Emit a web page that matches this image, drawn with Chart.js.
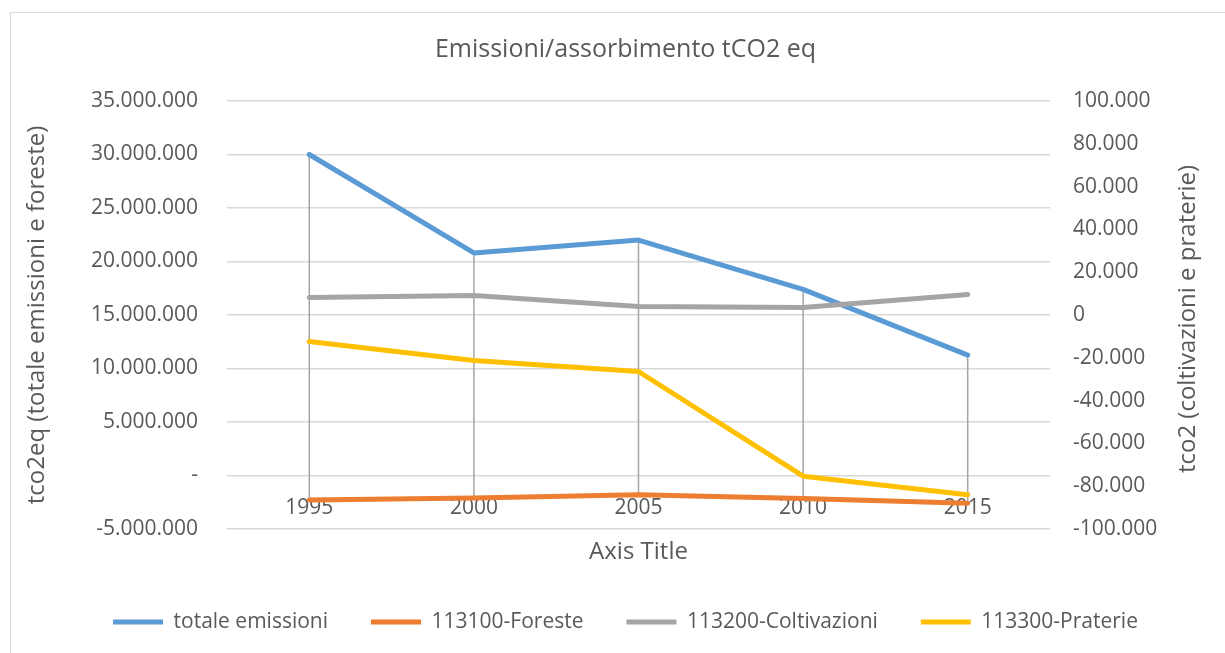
<!DOCTYPE html>
<html>
<head>
<meta charset="utf-8">
<script src="https://cdn.jsdelivr.net/npm/chart.js@4.4.1/dist/chart.umd.min.js"></script>
<style>
  html, body { margin: 0; padding: 0; background: #fff; overflow: hidden; }
  #wrap { position: relative; width: 1225px; height: 653px; overflow: hidden; }
  #frame { position: absolute; left: 10px; top: 12px; width: 1400px; height: 800px; border: 1px solid #d9d9d9; box-sizing: border-box; }
  #box { position: absolute; left: 0; top: 0; width: 1225px; height: 653px; }
</style>
</head>
<body>
<div id="wrap">
  <div id="frame"></div>
  <div id="box"><canvas id="c"></canvas></div>
</div>
<script>
const categories = ['1995', '2000', '2005', '2010', '2015'];
const totaleEmissioni = [30000000, 20800000, 22000000, 17400000, 11250000];
const foreste = [-2300000, -2100000, -1800000, -2150000, -2600000];
const coltivazioni = [8200, 9100, 4000, 3500, 9600];
const praterie = [-12400, -21300, -26400, -75300, -84000];
const seriesNames = ['totale emissioni', '113100-Foreste', '113200-Coltivazioni', '113300-Praterie'];
const chartTitle = 'Emissioni/assorbimento tCO2 eq';
const leftAxisTitle = 'tco2eq (totale emissioni e foreste)';
const rightAxisTitle = 'tco2 (coltivazioni e praterie)';
const xAxisTitle = 'Axis Title';

const FONT = "'Open Sans', 'Liberation Sans', sans-serif";
const TXT = '#595959';

function dots(n) {
  const s = String(Math.round(Math.abs(n)));
  return (n < 0 ? '-' : '') + s.replace(/\B(?=(\d{3})+(?!\d))/g, '.');
}

const highLow = {
  id: 'highLow',
  beforeDatasetsDraw(chart) {
    const ctx = chart.ctx, x = chart.scales.x, y = chart.scales.y;
    ctx.save();
    ctx.strokeStyle = '#a5a5a5';
    ctx.lineWidth = 1.5;
    categories.forEach((c, i) => {
      const vals = [totaleEmissioni[i], foreste[i]];
      const px = x.getPixelForValue(i);
      const top = y.getPixelForValue(Math.max(...vals));
      const bot = y.getPixelForValue(Math.min(...vals));
      ctx.beginPath();
      ctx.moveTo(px, top);
      ctx.lineTo(px, bot);
      ctx.stroke();
    });
    ctx.restore();
  }
};

const rightTitle = {
  id: 'rightTitle',
  afterDraw(chart) {
    const ctx = chart.ctx, a = chart.chartArea;
    ctx.save();
    ctx.translate(1188, (a.top + a.bottom) / 2 + 4);
    ctx.rotate(-Math.PI / 2);
    ctx.fillStyle = TXT;
    ctx.font = "24px " + FONT;
    ctx.textAlign = 'center';
    ctx.textBaseline = 'middle';
    ctx.fillText(rightAxisTitle, 0, 0);
    ctx.restore();
  }
};

function ds(label, data, color, axis, order) {
  return {
    label, data, yAxisID: axis, order,
    borderColor: color, backgroundColor: color,
    borderWidth: 5, pointRadius: 0, pointHoverRadius: 0,
    tension: 0, borderCapStyle: 'round', borderJoinStyle: 'round', fill: false
  };
}

new Chart(document.getElementById('c'), {
  type: 'line',
  data: {
    labels: categories,
    datasets: [
      ds(seriesNames[0], totaleEmissioni, '#5b9bd5', 'y', 4),
      ds(seriesNames[1], foreste, '#ed7d31', 'y', 3),
      ds(seriesNames[2], coltivazioni, '#a5a5a5', 'y1', 2),
      ds(seriesNames[3], praterie, '#ffc000', 'y1', 1)
    ]
  },
  options: {
    responsive: true,
    maintainAspectRatio: false,
    animation: false,
    layout: { padding: { left: 10, right: -16, top: 12, bottom: 10.5 } },
    plugins: {
      title: {
        display: true, text: chartTitle, color: TXT,
        font: { family: FONT, size: 25, weight: 'normal' },
        padding: { top: 23, bottom: 36 }
      },
      legend: {
        position: 'bottom',
        labels: {
          color: TXT, font: { family: FONT, size: 21 },
          usePointStyle: true, pointStyle: 'line', pointStyleWidth: 50,
          padding: 43,
          sort: (a, b) => a.datasetIndex - b.datasetIndex
        }
      },
      tooltip: { enabled: false }
    },
    scales: {
      x: {
        offset: true,
        grid: { display: false },
        border: { display: false },
        ticks: { color: TXT, font: { family: FONT, size: 21 }, mirror: true, padding: 8, maxRotation: 0, autoSkip: false },
        title: { display: true, text: xAxisTitle, color: TXT, font: { family: FONT, size: 24 }, padding: { top: 0, bottom: 2 } },
        afterFit: (s) => { s.height = 39.5; }
      },
      y: {
        position: 'left',
        min: -5000000, max: 35000000,
        ticks: { stepSize: 5000000, color: TXT, font: { family: FONT, size: 21 }, padding: 29,
          callback: (v) => v === 0 ? '-' : dots(v) },
        grid: { color: '#d9d9d9', lineWidth: 1.5, drawTicks: false },
        border: { display: false },
        title: { display: true, text: leftAxisTitle, color: TXT, font: { family: FONT, size: 24 }, padding: { top: 12.6, bottom: 0 } },
        afterFit: (s) => { s.width = 217; }
      },
      y1: {
        position: 'right',
        min: -100000, max: 100000,
        ticks: { stepSize: 20000, color: TXT, font: { family: FONT, size: 21 }, padding: 23,
          callback: (v) => v === 0 ? '0' : dots(v) },
        grid: { display: false, drawTicks: false },
        border: { display: false },
        afterFit: (s) => { s.width = 191; }
      }
    }
  },
  plugins: [highLow, rightTitle]
});
</script>
</body>
</html>
